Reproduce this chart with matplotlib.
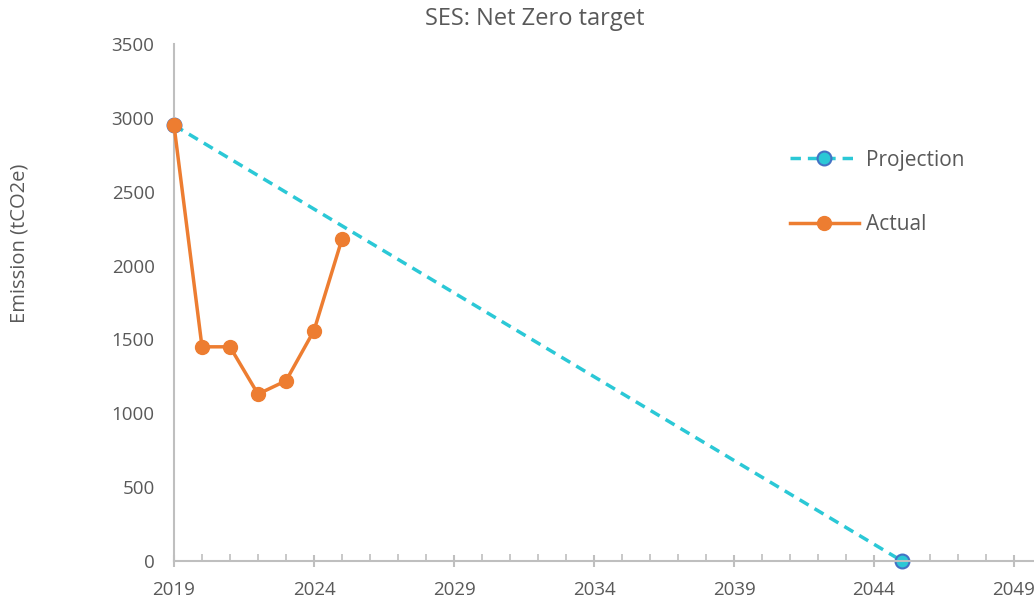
import matplotlib
matplotlib.use("Agg")
import matplotlib.pyplot as plt
from matplotlib.ticker import MultipleLocator

plt.rcParams['font.family'] = ['Open Sans', 'DejaVu Sans']

actual_years = [2019, 2020, 2021, 2022, 2023, 2024, 2025]
actual_values = [2950, 1450, 1450, 1130, 1220, 1560, 2180]
proj_years = [2019, 2045]
proj_values = [2950, 0]
x_ticks = [2019, 2024, 2029, 2034, 2039, 2044, 2049]
y_ticks = [0, 500, 1000, 1500, 2000, 2500, 3000, 3500]

text_col = '#595959'
axis_col = '#BFBFBF'
cyan = '#2BC8D6'
orange = '#ED7D31'

fig = plt.figure(figsize=(10.34, 6.0), dpi=100)
ax = fig.add_axes([174/1034, 1-561/600, (1042-174)/1034, (561-44)/600])

ax.plot(proj_years, proj_values, linestyle=(0, (3, 2)), color=cyan, lw=2.5,
        marker='o', markersize=10, markerfacecolor=cyan, markeredgecolor='#4472C4',
        markeredgewidth=1.5, label='Projection', zorder=2, clip_on=False)
ax.plot(actual_years, actual_values, color=orange, lw=2.5, marker='o',
        markersize=10, markerfacecolor=orange, markeredgecolor=orange,
        label='Actual', zorder=3, clip_on=False)

ax.set_xlim(2019, 2050)
ax.set_ylim(0, 3500)
ax.set_xticks(x_ticks)
ax.set_yticks(y_ticks)
ax.xaxis.set_minor_locator(MultipleLocator(1))

for s in ['top', 'right']:
    ax.spines[s].set_visible(False)
for s in ['left', 'bottom']:
    ax.spines[s].set_color(axis_col)
    ax.spines[s].set_linewidth(1.5)

ax.tick_params(axis='x', which='major', direction='inout', length=9, width=1.5,
               color=axis_col, labelcolor=text_col, labelsize=13.5, pad=10)
ax.tick_params(axis='x', which='minor', direction='in', length=5, width=1.2,
               color=axis_col)
ax.tick_params(axis='y', which='major', length=0, labelcolor=text_col,
               labelsize=13.5, pad=14)

fig.text(535/1034, 1-19/600, 'SES: Net Zero target', ha='center', va='center',
         fontsize=17, color=text_col)
fig.text(20/1034, 1-243/600, 'Emission (tCO2e)', ha='center', va='center',
         rotation=90, fontsize=14.5, color=text_col)

leg = ax.legend(loc='upper left', bbox_to_anchor=(771/1034, 1-131/600),
                bbox_transform=fig.transFigure, frameon=False, fontsize=15,
                handlelength=3.3, labelspacing=2.1, handletextpad=0.35,
                labelcolor=text_col)

fig.savefig('out.png', dpi=100)
